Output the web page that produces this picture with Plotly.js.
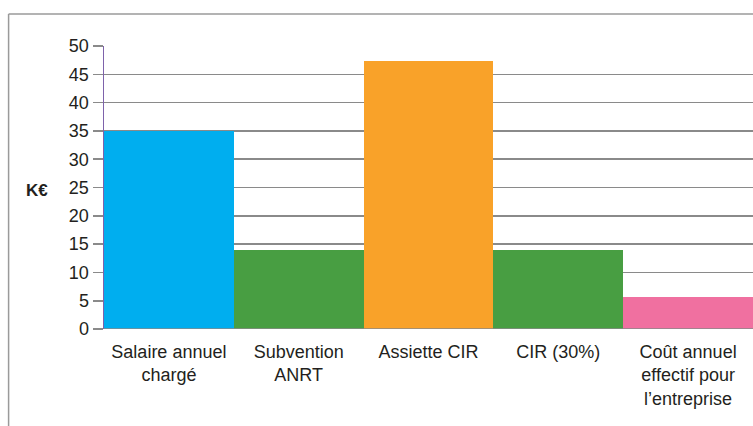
<!DOCTYPE html>
<html>
<head>
<meta charset="utf-8">
<script src="https://cdn.plot.ly/plotly-3.0.1.min.js"></script>
<style>html,body{margin:0;padding:0;background:#fff}#chart{width:753px;height:426px}</style>
</head>
<body>
<div id="chart"></div>
<script>
const categories = ["Salaire annuel<br>chargé", "Subvention<br>ANRT", "Assiette CIR", "CIR (30%)", "Coût annuel<br>effectif pour<br>l’entreprise"];
const values = [35, 14, 47.3, 13.9, 5.6];
const barColors = ["#00aeef", "#489e42", "#f9a229", "#489e42", "#f070a0"];
const yTicks = [0, 5, 10, 15, 20, 25, 30, 35, 40, 45, 50];
const yUnit = "K€";

const font = "'Liberation Sans', Arial, Helvetica, sans-serif";

Plotly.newPlot("chart", [{
  type: "bar",
  x: categories,
  y: values,
  marker: {color: barColors, line: {width: 0}},
  hoverinfo: "none"
}], {
  width: 753, height: 426,
  margin: {l: 104, r: 0, t: 46, b: 97},
  paper_bgcolor: "#fff", plot_bgcolor: "#fff",
  bargap: 0,
  showlegend: false,
  font: {family: font, size: 18, color: "#231f20"},
  xaxis: {
    type: "category",
    showgrid: false, zeroline: false,
    showline: false,
    ticks: "",
    tickfont: {family: font, size: 18, color: "#231f20"},
    ticklabelstandoff: 10,
    range: [-0.5, 4.5]
  },
  yaxis: {
    range: [0, 50],
    tickvals: yTicks,
    ticktext: yTicks.map(String),
    showgrid: true, gridcolor: "#8a8a8a", gridwidth: 1.6,
    zeroline: false,
    ticks: "outside", ticklen: 10, tickwidth: 1.6, tickcolor: "#8a8a8a",
    showline: true, linecolor: "#7e62ab", linewidth: 1.5,
    tickfont: {family: font, size: 18, color: "#231f20"},
    ticklabelstandoff: 0
  },
  shapes: [
    {type: "line", xref: "paper", yref: "paper", x0: -0.147, x1: 1.01, y0: 1.113, y1: 1.113,
     line: {color: "#9a9a9a", width: 1.5}},
    {type: "line", xref: "paper", yref: "paper", x0: -0.147, x1: -0.147, y0: 1.113, y1: -0.4,
     line: {color: "#9a9a9a", width: 1.5}},
    {type: "line", xref: "paper", yref: "y", x0: 0, x1: 1.01, y0: 0, y1: 0, layer: "above",
     line: {color: "#8a8a8a", width: 1.5}}
  ],
  annotations: [{
    text: "<b>" + yUnit + "</b>", xref: "paper", yref: "paper",
    x: -0.103, y: 0.491, xanchor: "center", yanchor: "middle",
    showarrow: false, font: {family: font, size: 17, color: "#231f20"}
  }]
}, {staticPlot: true, displayModeBar: false});
</script>
</body>
</html>
